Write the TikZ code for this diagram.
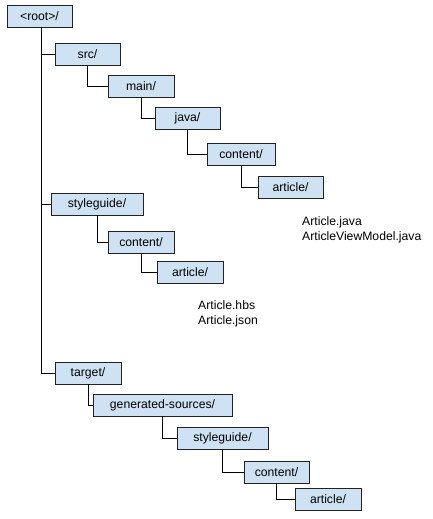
\documentclass[tikz,border=0pt]{standalone}
\usepackage{fontspec}
\setmainfont{Liberation Sans}
\definecolor{boxfill}{HTML}{CFE2F3}
\definecolor{boxline}{HTML}{222222}
\begin{document}
\begin{tikzpicture}[x=1pt,y=-1pt,
  dirbox/.style={draw=boxline,fill=boxfill,line width=0.9pt,rectangle,inner sep=0pt,minimum height=22pt,font=\fontsize{12.2}{14}\selectfont},
  conn/.style={draw=black,line width=0.9pt},
  files/.style={anchor=west,align=left,inner sep=0pt,font=\fontsize{12.2}{15}\selectfont}]
\useasboundingbox (0,0) rectangle (432,519);
\node[dirbox,minimum width=65pt] (root) at (39.5,16) {<root>/};
\node[dirbox,minimum width=65pt] (src) at (87.5,54.5) {src/};
\node[dirbox,minimum width=66pt] (main) at (141,86) {main/};
\node[dirbox,minimum width=65pt] (java) at (187.5,118.5) {java/};
\node[dirbox,minimum width=68pt] (content1) at (241,154) {content/};
\node[dirbox,minimum width=65pt] (article1) at (290.5,187.5) {article/};
\node[dirbox,minimum width=92pt] (style1) at (97,204) {styleguide/};
\node[dirbox,minimum width=66pt] (content2) at (141,242) {content/};
\node[dirbox,minimum width=66pt] (article2) at (190,272) {article/};
\node[dirbox,minimum width=66pt] (target) at (88,373) {target/};
\node[dirbox,minimum width=139pt] (gen) at (162.5,405) {generated-sources/};
\node[dirbox,minimum width=91pt] (style2) at (222.5,438) {styleguide/};
\node[dirbox,minimum width=65pt] (content3) at (276.5,472) {content/};
\node[dirbox,minimum width=66pt] (article3) at (328,499) {article/};
\node[files] (javafiles) at (302,229.5) {Article.java\\ArticleViewModel.java};
\node[files] (hbsfiles) at (198,313.5) {Article.hbs\\Article.json};
\draw[conn] ([xshift=1.5pt]root.south) |- (src.west);
\draw[conn] ([xshift=1.5pt]root.south) |- (style1.west);
\draw[conn] ([xshift=1.5pt]root.south) |- (target.west);
\draw[conn] (src.south) |- (main.west);
\draw[conn] (main.south) |- (java.west);
\draw[conn] (java.south) |- (content1.west);
\draw[conn] (content1.south) |- (article1.west);
\draw[conn] (style1.south) |- (content2.west);
\draw[conn] (content2.south) |- (article2.west);
\draw[conn] (target.south) |- (gen.west);
\draw[conn] (gen.south) |- (style2.west);
\draw[conn] (style2.south) |- (content3.west);
\draw[conn] (content3.south) |- (article3.west);
\end{tikzpicture}
\end{document}
